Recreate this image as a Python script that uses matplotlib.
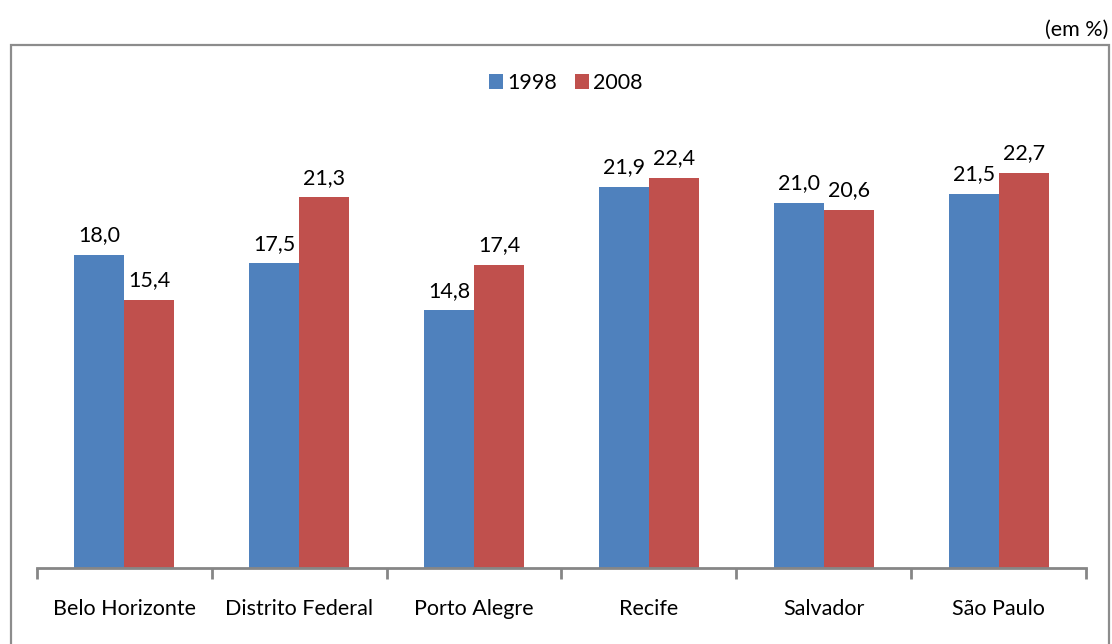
import matplotlib
matplotlib.use("Agg")
import matplotlib.pyplot as plt
import numpy as np
from matplotlib.patches import Rectangle

categories = ["Belo Horizonte", "Distrito Federal", "Porto Alegre", "Recife", "Salvador", "São Paulo"]
series_names = ["1998", "2008"]
values_1998 = [18.0, 17.5, 14.8, 21.9, 21.0, 21.5]
values_2008 = [15.4, 21.3, 17.4, 22.4, 20.6, 22.7]
colors = ["#4F81BD", "#C0504D"]

plt.rcParams['font.family'] = ['Lato', 'DejaVu Sans']
FS = 15.5

W, H = 1112, 644
fig = plt.figure(figsize=(W/100, H/100), dpi=100)

# outer box
fig.patches.append(Rectangle((11/W, -0.01), (1109-11)/W, 1 - 45/H + 0.01,
                             transform=fig.transFigure, fill=False,
                             edgecolor="#8C8C8C", linewidth=1.6))
fig.text(1108/W, 1 - 30/H, "(em %)", ha="right", va="center", fontsize=FS)

ax = fig.add_axes([37/W, 1 - 568/H, (1086-37)/W, (568-133)/H])
x = np.arange(len(categories))
bw = 0.286
b1 = ax.bar(x - bw/2, values_1998, bw, color=colors[0], label=series_names[0])
b2 = ax.bar(x + bw/2, values_2008, bw, color=colors[1], label=series_names[1])
for bars, vals in ((b1, values_1998), (b2, values_2008)):
    for r, v in zip(bars, vals):
        ax.annotate(f"{v:.1f}".replace(".", ","), (r.get_x() + r.get_width()/2, v),
                    xytext=(0, 7), textcoords="offset points", ha="center", va="bottom",
                    fontsize=FS)

ax.set_xlim(-0.5, len(categories) - 0.5)
ax.set_ylim(0, 25)
for s in ("left", "right", "top"):
    ax.spines[s].set_visible(False)
ax.spines["bottom"].set_color("#868686")
ax.spines["bottom"].set_linewidth(2)
ax.set_yticks([])
ax.set_xticks(np.arange(len(categories) + 1) - 0.5, minor=False)
ax.set_xticklabels([])
ax.tick_params(axis="x", which="major", length=8, width=2, color="#868686")
ax.set_xticks(x, minor=True)
ax.set_xticklabels(categories, minor=True, fontsize=FS)
ax.tick_params(axis="x", which="minor", length=0, pad=22)

leg = fig.legend(loc="center", bbox_to_anchor=(566/W, 1 - 83/H), ncol=2, frameon=False,
                 fontsize=FS, handlelength=0.65, handleheight=0.65, handletextpad=0.2,
                 columnspacing=0.8)

fig.savefig("out.png", dpi=100)
